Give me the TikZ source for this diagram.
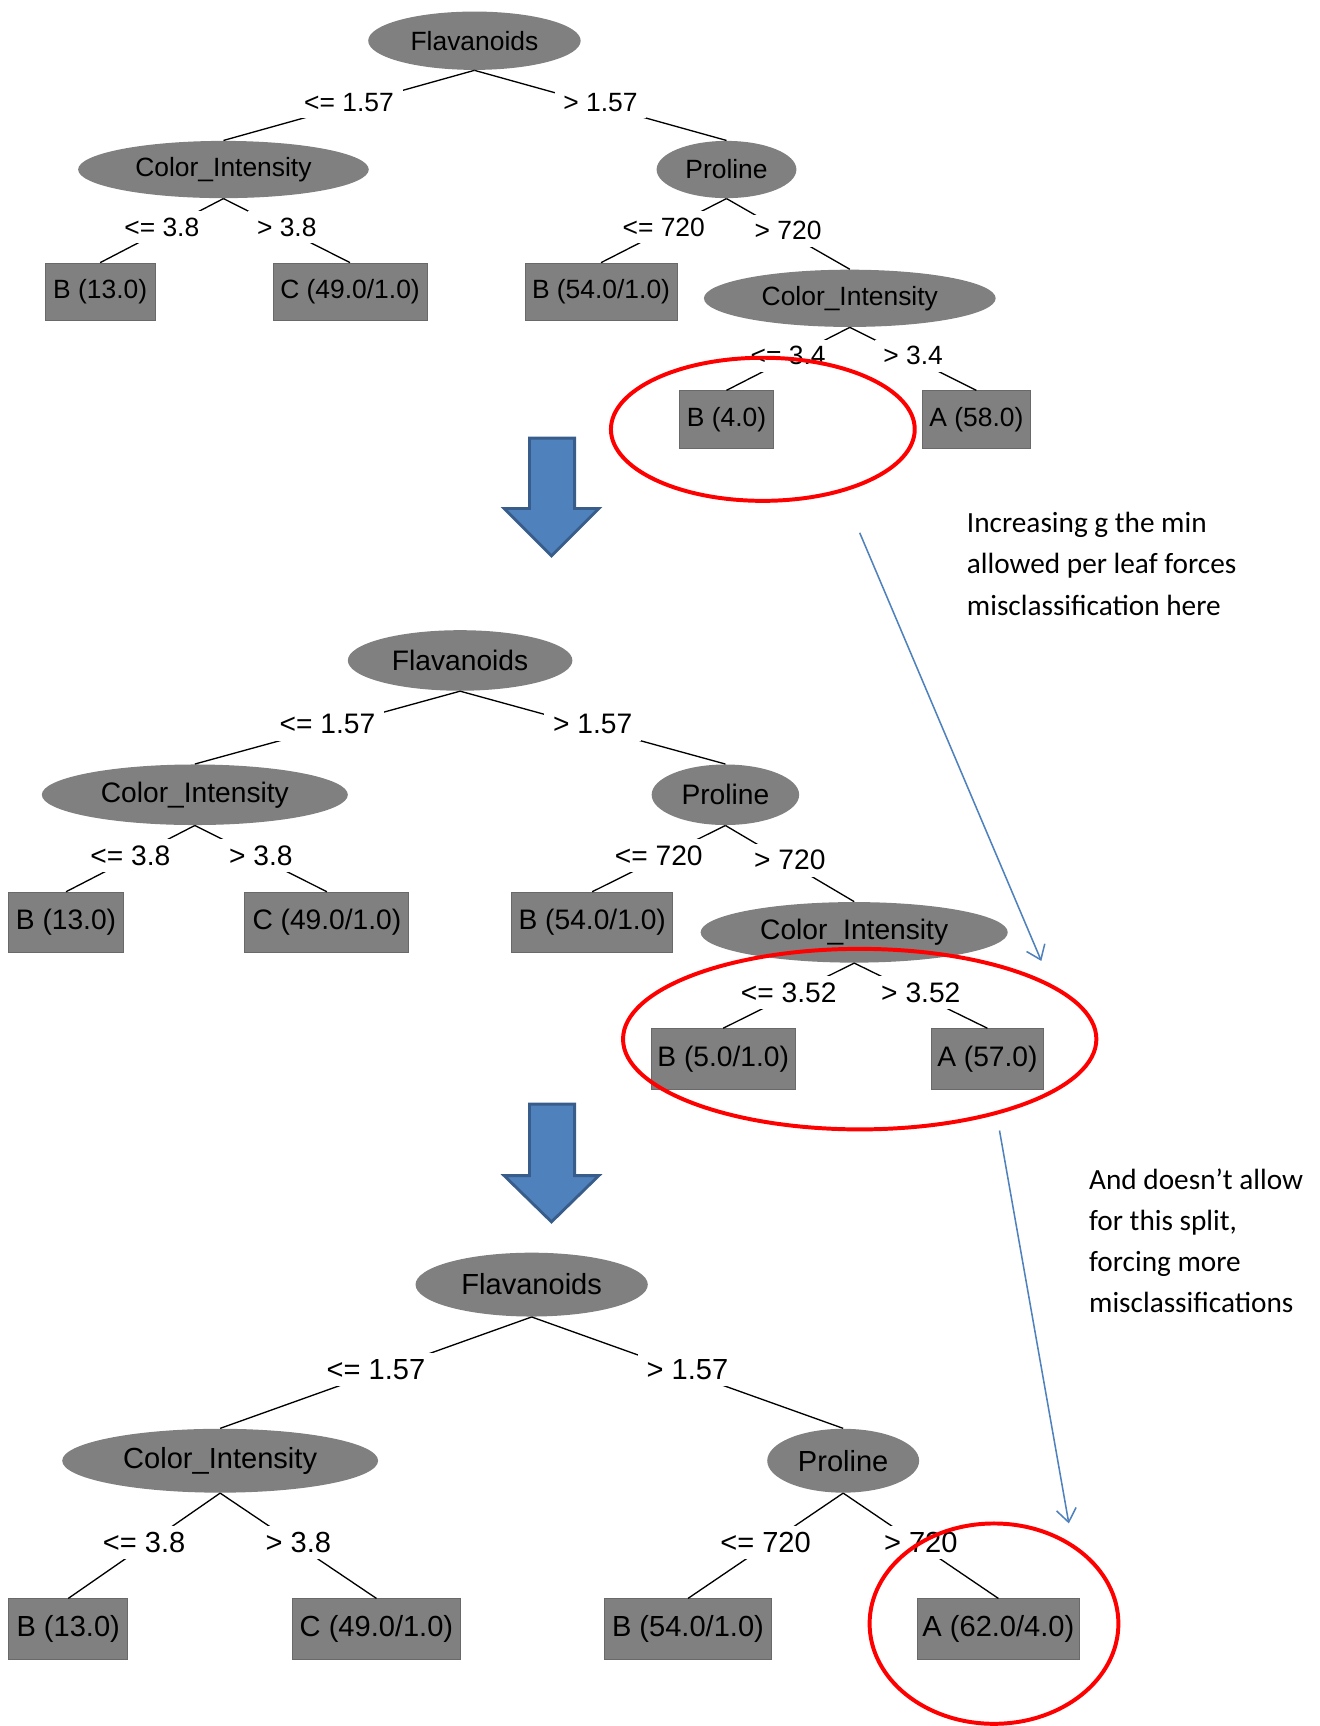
\documentclass[tikz,border=0pt]{standalone}
\usepackage{fontspec}
\setmainfont{Liberation Sans}
\newfontfamily\notefont{Carlito}
\usetikzlibrary{shapes.geometric,arrows.meta}
\definecolor{WekaGray}{RGB}{128,128,128}
\definecolor{WekaEdge}{RGB}{105,105,105}
\definecolor{NoteBlue}{RGB}{79,129,189}
\definecolor{NoteBlueDark}{RGB}{56,93,138}

\begin{document}
\begin{tikzpicture}[x=0.5pt,y=-0.5pt,
attr/.style n args={2}{ellipse,fill=WekaGray,inner sep=0pt,minimum width=#1,minimum height=#2},
leaf/.style n args={2}{rectangle,fill=WekaGray,draw=WekaEdge,inner sep=0pt,minimum width=#1,minimum height=#2},
cond/.style={fill=white,inner xsep=4pt,inner ysep=3pt,yshift=1.5pt},
edge/.style={draw=black,line width=0.6pt},
ring/.style={draw=red,line width=1.8pt},
bigarrow/.style={fill=NoteBlue,draw=NoteBlueDark,line width=1.3pt},
pointer/.style={draw=NoteBlue,line width=0.7pt,-{Straight Barb[length=6pt,width=9pt]}},
note/.style={anchor=north west,align=left,inner sep=0pt,font=\notefont\fontsize{13.3}{18.75}\selectfont}]
\useasboundingbox (0,0) rectangle (1199,1568);

% first tree
\begin{scope}[font=\fontsize{12}{14}\selectfont]
\node[attr={96.5pt}{26.5pt}] (flav1) at (431,37) {Flavanoids};
\node[attr={132pt}{26pt}] (color1) at (203,154) {Color\_Intensity};
\node[attr={63.5pt}{26pt}] (prol1) at (660,154) {Proline};
\node[attr={132.5pt}{26pt}] (color1r) at (772,271) {Color\_Intensity};
\foreach \n/\x/\y/\w/\t in %
{b13a/91/265/50pt/{B (13.0)},c49a/318/265/70pt/{C (49.0/1.0)},b54a/546/265/69pt/{B (54.0/1.0)},
 b4a/660/381/42.5pt/{B (4.0)},a58a/887/381/49pt/{A (58.0)}} {
   \node[leaf={\w}{26pt}] (\n) at (\x,\y) {\t};
}
\foreach \p/\c/\t in %
{flav1/color1/{<= 1.57},flav1/prol1/{> 1.57},color1/b13a/{<= 3.8},color1/c49a/{> 3.8},
 prol1/b54a/{<= 720},prol1/color1r/{> 720},color1r/b4a/{<= 3.4},color1r/a58a/{> 3.4}} {
   \draw[edge] (\p.south) -- node[cond] {\t} (\c.north);
}
\end{scope}

% second tree
\begin{scope}[font=\fontsize{12.8}{15}\selectfont]
\node[attr={102pt}{27.5pt}] (flav2) at (418,600) {Flavanoids};
\node[attr={139pt}{27.5pt}] (color2) at (177,722) {Color\_Intensity};
\node[attr={67pt}{27.5pt}] (prol2) at (659,722) {Proline};
\node[attr={139.5pt}{27.5pt}] (color2r) at (776,847) {Color\_Intensity};
\foreach \n/\x/\y/\w/\t in %
{b13b/60/838/52pt/{B (13.0)},c49b/297/838/74.5pt/{C (49.0/1.0)},b54b/538/838/73pt/{B (54.0/1.0)},
 b5b/657/962/65.5pt/{B (5.0/1.0)},a57b/897/962/51pt/{A (57.0)}} {
   \node[leaf={\w}{27.5pt}] (\n) at (\x,\y) {\t};
}
\foreach \p/\c/\t in %
{flav2/color2/{<= 1.57},flav2/prol2/{> 1.57},color2/b13b/{<= 3.8},color2/c49b/{> 3.8},
 prol2/b54b/{<= 720},prol2/color2r/{> 720},color2r/b5b/{<= 3.52},color2r/a57b/{> 3.52}} {
   \draw[edge] (\p.south) -- node[cond] {\t} (\c.north);
}
\end{scope}

% third tree
\begin{scope}[font=\fontsize{13.2}{15.5}\selectfont]
\node[attr={105.5pt}{29pt}] (flav3) at (483,1167) {Flavanoids};
\node[attr={143.5pt}{29pt}] (color3) at (200,1327) {Color\_Intensity};
\node[attr={69pt}{29pt}] (prol3) at (766,1327) {Proline};
\foreach \n/\x/\w/\t in %
{b13c/62/54pt/{B (13.0)},c49c/342/76pt/{C (49.0/1.0)},b54c/625/75.5pt/{B (54.0/1.0)},a62c/907/74pt/{A (62.0/4.0)}} {
   \node[leaf={\w}{27.5pt}] (\n) at (\x,1480) {\t};
}
\foreach \p/\c/\t in %
{flav3/color3/{<= 1.57},flav3/prol3/{> 1.57},color3/b13c/{<= 3.8},color3/c49c/{> 3.8},
 prol3/b54c/{<= 720},prol3/a62c/{> 720}} {
   \draw[edge] (\p.south) -- node[cond] {\t} (\c.north);
}
\end{scope}

% block arrows
\draw[bigarrow] (481,398) -- (522,398) -- (522,462) -- (544,462) -- (501,505) -- (458,462) -- (481,462) -- cycle;
\draw[bigarrow] (481,1003) -- (522,1003) -- (522,1068) -- (544,1068) -- (501,1110) -- (458,1068) -- (481,1068) -- cycle;

% rings
\draw[ring] (693,390) ellipse [x radius=138,y radius=65];
\draw[ring] (781,944) ellipse [x radius=215,y radius=82];
\draw[ring] (903,1475) ellipse [x radius=113,y radius=91];

% notes
\node[note] (note1) at (878,465) {Increasing g the min\\allowed per leaf forces\\misclassification here};
\node[note] (note2) at (989,1061) {And doesn’t allow\\for this split,\\forcing more\\misclassifications};
\coordinate (p1s) at (781,484);
\coordinate (p1e) at (946,873);
\coordinate (p2s) at (908,1027);
\coordinate (p2e) at (971,1384);
\draw[pointer] (p1s) -- (p1e);
\draw[pointer] (p2s) -- (p2e);
\end{tikzpicture}
\end{document}
